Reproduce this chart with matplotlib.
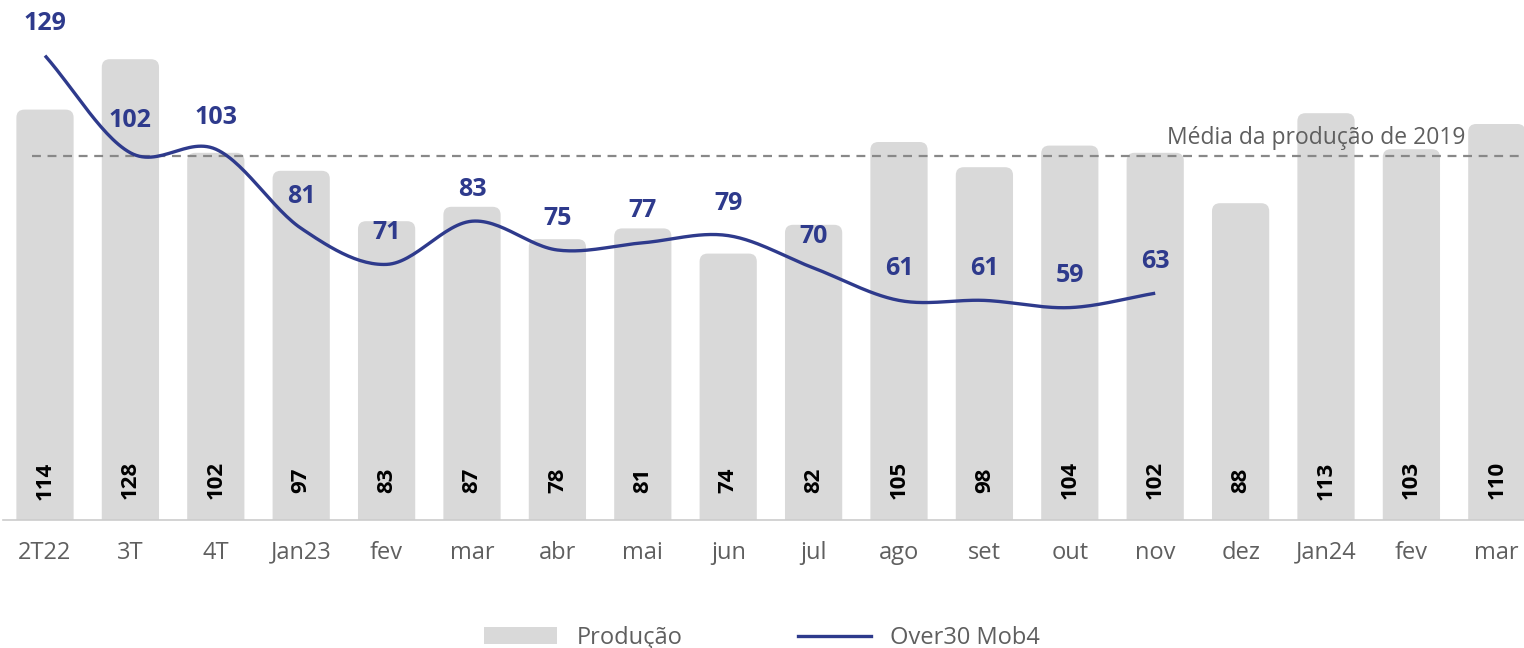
import numpy as np
import matplotlib
matplotlib.use("Agg")
import matplotlib.pyplot as plt
from matplotlib.patches import Patch, FancyBboxPatch
from matplotlib.lines import Line2D

categorias = ["2T22", "3T", "4T", "Jan23", "fev", "mar", "abr", "mai", "jun",
              "jul", "ago", "set", "out", "nov", "dez", "Jan24", "fev", "mar"]
producao = [114, 128, 102, 97, 83, 87, 78, 81, 74, 82, 105, 98, 104, 102, 88, 113, 103, 110]
over30 = [129, 102, 103, 81, 71, 83, 75, 77, 79, 70, 61, 61, 59, 63]
media_2019 = 101

AZUL = "#2E3A8C"
CINZA_BARRA = "#D9D9D9"
CINZA_TEXTO = "#5f5f5f"

plt.rcParams['font.family'] = ['Open Sans', 'DejaVu Sans']


def catmull_rom(xs, ys, n=30):
    # curva suave passando pelos pontos
    xs = np.asarray(xs, float)
    ys = np.asarray(ys, float)
    px = np.concatenate([[2 * xs[0] - xs[1]], xs, [2 * xs[-1] - xs[-2]]])
    py = np.concatenate([[2 * ys[0] - ys[1]], ys, [2 * ys[-1] - ys[-2]]])
    out_x, out_y = [], []
    t = np.linspace(0, 1, n)
    for i in range(1, len(px) - 2):
        for p, out in ((px, out_x), (py, out_y)):
            p0, p1, p2, p3 = p[i - 1], p[i], p[i + 1], p[i + 2]
            out.extend(0.5 * ((2 * p1) + (-p0 + p2) * t +
                              (2 * p0 - 5 * p1 + 4 * p2 - p3) * t ** 2 +
                              (-p0 + 3 * p1 - 3 * p2 + p3) * t ** 3))
    return np.array(out_x), np.array(out_y)


fig = plt.figure(figsize=(15.24, 6.48), dpi=100)
ax = fig.add_axes([0, 128 / 648, 1, 520 / 648])

x = np.arange(len(categorias))
passo = 85.4          # px por categoria
px_y = 3.6            # px por unidade no eixo y
ax.set_xlim(-45 / passo, -45 / passo + 1524 / passo)
ax.set_ylim(0, 520 / px_y)

# barras com cantos superiores arredondados
larg = 0.67
raio = 8 / passo
for xi, v in zip(x, producao):
    barra = FancyBboxPatch((xi - larg / 2, -5), larg, v + 5,
                           boxstyle=f"round,pad=0,rounding_size={raio}",
                           mutation_aspect=passo / px_y,
                           facecolor=CINZA_BARRA, edgecolor="none", zorder=1)
    ax.add_patch(barra)
    ax.text(xi, 11, str(v), rotation=90, ha="center", va="center",
            fontsize=16, fontweight="bold", color="black", zorder=3)

ax.hlines(media_2019, -0.15, 17.4, colors="#888888", linestyles=(0, (4, 3)),
          linewidth=1.6, zorder=2)
ax.text(16.63, media_2019 + 1.8, "Média da produção de 2019", ha="right",
        va="bottom", fontsize=16.5, color=CINZA_TEXTO, zorder=3)

xl = np.arange(len(over30))
cx, cy = catmull_rom(xl, over30)
ax.plot(cx, cy, color=AZUL, linewidth=2.4, zorder=4, solid_capstyle="butt")
for xi, v in zip(xl, over30):
    ax.annotate(str(v), (xi, v), xytext=(0, 23), textcoords="offset points",
                ha="center", va="center", fontsize=18, fontweight="bold",
                color=AZUL, zorder=5)

ax.set_xticks(x)
ax.set_xticklabels(categorias, fontsize=17, color=CINZA_TEXTO)
ax.tick_params(axis="x", length=0, pad=15)
ax.set_yticks([])
for s in ["top", "left", "right"]:
    ax.spines[s].set_visible(False)
ax.spines["bottom"].set_color("#CCCCCC")
ax.spines["bottom"].set_linewidth(1.2)
ax.spines["bottom"].set_bounds(-45 / passo + 3 / passo, 17.6)
ax.spines["bottom"].set_zorder(2)

handles = [Patch(facecolor=CINZA_BARRA, edgecolor="none"),
           Line2D([0], [0], color=AZUL, linewidth=2.4)]
fig.legend(handles, ["Produção", "Over30 Mob4"], loc="center",
           bbox_to_anchor=(0.5, 10 / 648), ncol=2, frameon=False,
           fontsize=17, labelcolor=CINZA_TEXTO, handlelength=3.1,
           handleheight=0.7, columnspacing=4.9, handletextpad=0.8)

fig.savefig("out.png", dpi=100, facecolor="white")
